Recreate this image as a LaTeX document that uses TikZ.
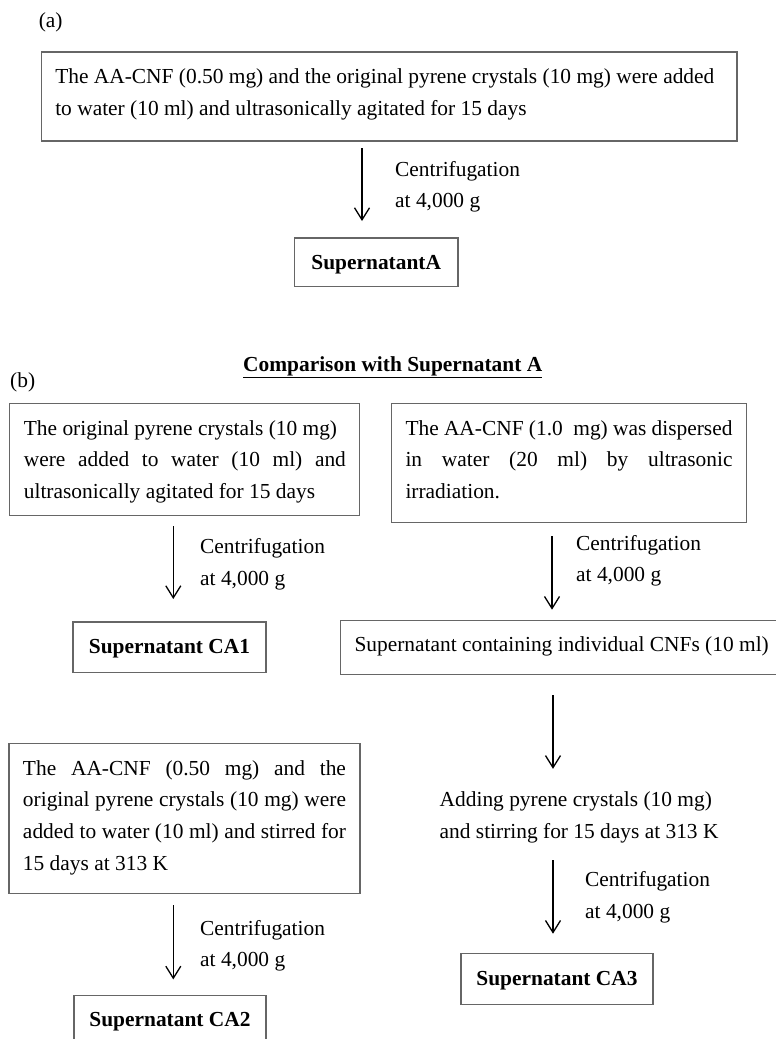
\documentclass[tikz,border=0pt]{standalone}
\usepackage{fontspec}
\setmainfont{Liberation Serif}
\usepackage{tikz}
\usetikzlibrary{arrows.meta}
\NewDocumentCommand{\centri}{}{Centrifugation\\at 4,000 g}
\NewDocumentCommand{\jline}{m}{\makebox[\linewidth][s]{#1}}
\tikzset{/CNF/S/box/.style={
	draw=black!60, line width=1.1pt, inner xsep=14pt, inner ysep=0pt, outer sep=0pt,
	text height=31.3pt, text depth=19pt, align=flush left
}}
\tikzset{/CNF/S/note/.style={
	anchor=base west, inner sep=0pt, text width=150pt, align=flush left
}}
\tikzset{/CNF/S/flow/.style={
	line width=1.3pt, -{Straight Barb[length=12pt,width=15pt]}
}}

\begin{document}
\begin{tikzpicture}[x=1pt, y=-1pt, font=\fontsize{21.4}{31.7}\selectfont]
			\useasboundingbox (0,0) rectangle (776,1039);
			\clip (0,0) rectangle (776,1039);
			% (a)
			\path (38.6,27.5) node[anchor=base west, inner sep=0pt] (partA) {(a)};
			\path (41.3,83.3) node[/CNF/S/box, anchor=base west, text width=667.7pt, text depth=57.7pt] (mixA) {%
				The AA-CNF (0.50 mg) and the original pyrene crystals (10 mg) were added\\%
				to water (10 ml) and ultrasonically agitated for 15 days%
			};
			\path (376.25,269.3) node[/CNF/S/box, anchor=base, minimum width=163.5pt, text depth=17.4pt] (supA) {\textbf{SupernatantA}};
			\path (395,176) node[/CNF/S/note] (cenA) {\centri};
			\draw[/CNF/S/flow, shorten <=7.3pt, shorten >=17pt] (mixA.south -| 362,0) -- (supA.north -| 362,0);
			% (b)
			\path (243,371.7) node[anchor=base west, inner sep=0pt] (cmpHead) {\underline{\textbf{Comparison with Supernatant A}}};
			\path (10,387.5) node[anchor=base west, inner sep=0pt] (partB) {(b)};
			% left column
			\path (9.9,435) node[/CNF/S/box, anchor=base west, text width=322pt, text depth=80.7pt] (pyrOnly) {%
				The original pyrene crystals (10 mg)\\%
				\jline{were added to water (10 ml) and}\\%
				ultrasonically agitated for 15 days%
			};
			\path (200,553.3) node[/CNF/S/note] (cenB) {\centri};
			\path (169.5,653.3) node[/CNF/S/box, anchor=base, minimum width=193pt] (supCAa) {\textbf{Supernatant CA1}};
			\draw[/CNF/S/flow, shorten <=10.3pt, shorten >=23pt] (pyrOnly.south -| 173.3,0) -- (supCAa.north -| 173.3,0);
			\path (9,775) node[/CNF/S/box, anchor=base west, text width=323pt, text depth=118.3pt] (mixStir) {%
				\jline{The AA-CNF (0.50 mg) and the}\\%
				\jline{original pyrene crystals (10 mg) were}\\%
				\jline{added to water (10 ml) and stirred for}\\%
				15 days at 313 K%
			};
			\path (200,935) node[/CNF/S/note] (cenC) {\centri};
			\path (170,1026.7) node[/CNF/S/box, anchor=base, minimum width=192pt] (supCAb) {\textbf{Supernatant CA2}};
			\draw[/CNF/S/flow, shorten <=11.7pt, shorten >=16pt] (mixStir.south -| 173.3,0) -- (supCAb.north -| 173.3,0);
			% right column
			\path (391.5,435) node[/CNF/S/box, anchor=base west, text width=327pt, text depth=87.3pt] (cnfOnly) {%
				\jline{The AA-CNF (1.0~~mg) was dispersed}\\%
				\jline{in water (20 ml) by ultrasonic}\\%
				irradiation.%
			};
			\path (576,550) node[/CNF/S/note] (cenD) {\centri};
			\path (340.5,651.7) node[/CNF/S/box, anchor=base west, text width=430pt, text depth=22.6pt] (cnfSup) {Supernatant containing individual CNFs (10 ml)};
			\draw[/CNF/S/flow, shorten <=13.7pt, shorten >=10.7pt] (cnfOnly.south -| 552,0) -- (cnfSup.north -| 552,0);
			\path (439.5,806.7) node[/CNF/S/note, text width=300pt, text height=31.3pt, text depth=50.7pt] (addPyr) {%
				Adding pyrene crystals (10 mg)\\%
				and stirring for 15 days at 313 K%
			};
			\draw[/CNF/S/flow, shorten <=20.7pt, shorten >=6.4pt] (cnfSup.south -| 553,0) -- (addPyr.north -| 553,0);
			\path (585,886.7) node[/CNF/S/note] (cenE) {\centri};
			\path (557,985) node[/CNF/S/box, anchor=base, minimum width=192pt, text depth=19.3pt] (supCAc) {\textbf{Supernatant CA3}};
			\draw[/CNF/S/flow, shorten <=2.6pt, shorten >=20pt] (addPyr.south -| 553,0) -- (supCAc.north -| 553,0);
		\end{tikzpicture}
\end{document}
